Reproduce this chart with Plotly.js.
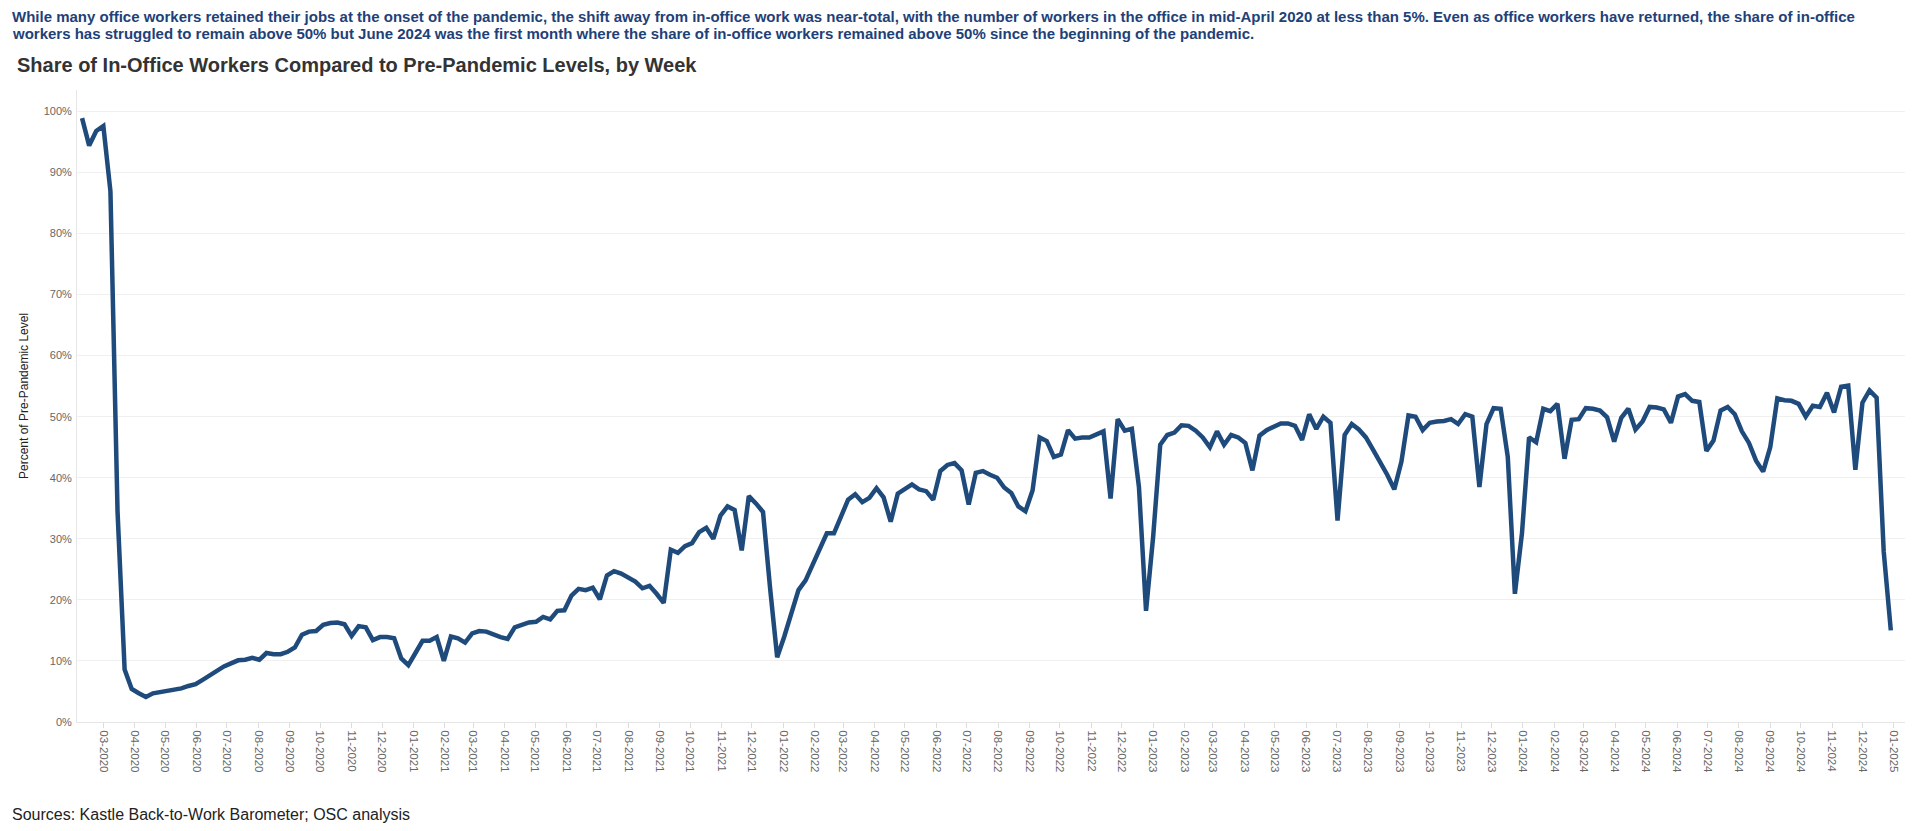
<!DOCTYPE html>
<html>
<head>
<meta charset="utf-8">
<script src="https://cdn.plot.ly/plotly-3.0.1.min.js"></script>
<style>
  html, body { margin: 0; padding: 0; background: #ffffff; }
  #chart { width: 1920px; height: 831px; }
</style>
</head>
<body>
<div id="chart"></div>
<script>
// Weekly share of in-office workers vs. pre-pandemic level (%), week starting dates
const firstWeek = '2020-02-09';

const v2020 = [98.9, 94.4, 96.8, 97.6, 86.9, 34.5, 8.6, 5.4, 4.7, 4.1, 4.7, 4.9, 5.0, 5.3, 5.5, 5.9,
  6.2, 6.9, 7.7, 8.4, 9.1, 9.6, 10.1, 10.2, 10.5, 10.2, 11.3, 11.1, 11.1, 11.5, 12.2, 14.3,
  14.8, 14.9, 15.9, 16.2, 16.3, 16.0, 14.1, 15.7, 15.5, 13.4, 13.9, 13.9, 13.7, 10.4, 9.3];
const v2021 = [11.3, 13.3, 13.3, 13.9, 10.0, 14.0, 13.7, 13.0, 14.5, 14.9, 14.8, 14.3, 13.9, 13.6,
  15.5, 15.9, 16.3, 16.4, 17.2, 16.8, 18.2, 18.3, 20.7, 21.8, 21.6, 22.0, 20.1, 24.0, 24.7, 24.3,
  23.6, 23.0, 21.9, 22.3, 21.0, 19.5, 28.2, 27.7, 28.8, 29.3, 31.1, 31.8, 30.0, 33.8, 35.3, 34.7,
  28.1, 37.0, 35.8, 34.4, 21.9, 10.6];
const v2022 = [14.0, 17.9, 21.6, 23.2, 25.7, 28.4, 30.9, 30.9, 33.7, 36.4, 37.3, 36.0, 36.7, 38.3,
  36.8, 32.8, 37.4, 38.1, 38.9, 38.1, 37.8, 36.4, 41.1, 42.1, 42.4, 41.2, 35.6, 40.8, 41.1, 40.5,
  40.0, 38.4, 37.5, 35.3, 34.5, 37.9, 46.6, 46.0, 43.4, 43.8, 47.8, 46.4, 46.6, 46.6, 47.2, 47.6,
  36.6, 49.6, 47.7, 48.0, 38.5, 18.2];
const v2023 = [30.3, 45.4, 47.0, 47.4, 48.6, 48.5, 47.7, 46.6, 45.0, 47.6, 45.4, 47.0, 46.6, 45.7,
  41.2, 46.9, 47.8, 48.3, 48.9, 48.9, 48.5, 46.2, 50.4, 48.0, 50.0, 49.0, 33.0, 47.0, 48.8, 47.9,
  46.6, 44.6, 42.6, 40.5, 38.1, 42.6, 50.2, 50.0, 47.8, 49.0, 49.2, 49.3, 49.6, 48.8, 50.4, 50.0,
  38.5, 48.8, 51.4, 51.3, 43.4, 21.0, 30.9];
const v2024 = [46.6, 45.8, 51.3, 50.9, 52.1, 43.1, 49.5, 49.6, 51.4, 51.3, 51.0, 49.9, 45.9, 49.8,
  51.3, 47.9, 49.2, 51.6, 51.5, 51.2, 49.0, 53.3, 53.7, 52.6, 52.4, 44.4, 46.1, 51.0, 51.6, 50.4,
  47.6, 45.7, 42.8, 41.0, 45.0, 53.0, 52.7, 52.6, 52.1, 50.0, 51.8, 51.6, 53.9, 50.7, 54.9, 55.1,
  41.3, 52.3, 54.3, 53.1, 27.9, 15.0];

const headerLine1 = 'While many office workers retained their jobs at the onset of the pandemic, the shift away from in-office work was near-total, with the number of workers in the office in mid-April 2020 at less than 5%. Even as office workers have returned, the share of in-office';
const headerLine2 = 'workers has struggled to remain above 50% but June 2024 was the first month where the share of in-office workers remained above 50% since the beginning of the pandemic.';
const chartTitle = 'Share of In-Office Workers Compared to Pre-Pandemic Levels, by Week';
const yTitle = 'Percent of Pre-Pandemic Level';
const sourceText = 'Sources: Kastle Back-to-Work Barometer; OSC analysis';

const values = [].concat(v2020, v2021, v2022, v2023, v2024);
const weeks = [];
{
  const d0 = new Date(firstWeek + 'T00:00:00Z');
  for (let i = 0; i < values.length; i++) {
    const d = new Date(d0.getTime() + i * 7 * 86400000);
    weeks.push(d.toISOString().slice(0, 10));
  }
}

const FONT = 'Arial, "Liberation Sans", sans-serif';

const trace = {
  type: 'scatter',
  mode: 'lines',
  x: weeks,
  y: values,
  line: { color: '#1F4A7C', width: 4.5, shape: 'linear' },
  hoverinfo: 'skip'
};

const layout = {
  width: 1920,
  height: 831,
  margin: { l: 77, r: 15, t: 90, b: 109 },
  paper_bgcolor: '#ffffff',
  plot_bgcolor: '#ffffff',
  showlegend: false,
  font: { family: FONT, color: '#666666' },
  title: {
    text: '<b>' + chartTitle + '</b>',
    font: { family: FONT, size: 20, color: '#333333' },
    xref: 'container', yref: 'container',
    x: 17 / 1920, xanchor: 'left',
    y: 1 - 65 / 831, yanchor: 'middle'
  },
  xaxis: {
    type: 'date',
    range: ['2020-02-04', '2025-01-12'],
    tick0: '2020-03-01',
    dtick: 'M1',
    tickformat: '%m-%Y',
    tickangle: 90,
    tickfont: { family: FONT, size: 11.5, color: '#666666' },
    ticks: 'outside',
    ticklen: 5,
    tickcolor: '#dddddd',
    showgrid: false,
    showline: true,
    linecolor: '#e6e6e6',
    linewidth: 1,
    zeroline: false,
    fixedrange: true
  },
  yaxis: {
    range: [0, 103.5],
    tick0: 0,
    dtick: 10,
    ticksuffix: '%',
    tickfont: { family: FONT, size: 11, color: '#666666' },
    ticks: '',
    ticklabelstandoff: 2,
    showgrid: true,
    gridcolor: '#f0f0f0',
    gridwidth: 1,
    showline: true,
    linecolor: '#e6e6e6',
    linewidth: 1,
    zeroline: false,
    fixedrange: true
  },
  annotations: [
    {
      text: '<b>' + headerLine1 + '</b>',
      xref: 'paper', yref: 'paper',
      x: 0, y: 1, xanchor: 'left', yanchor: 'middle', align: 'left',
      xshift: -67, yshift: 74,
      showarrow: false,
      font: { family: FONT, size: 15, color: '#1E4178' }
    },
    {
      text: '<b>' + headerLine2 + '</b>',
      xref: 'paper', yref: 'paper',
      x: 0, y: 1, xanchor: 'left', yanchor: 'middle', align: 'left',
      xshift: -67, yshift: 57,
      showarrow: false,
      font: { family: FONT, size: 15, color: '#1E4178' }
    },
    {
      text: yTitle,
      xref: 'paper', yref: 'paper',
      x: 0, y: 0.5, xanchor: 'center', yanchor: 'middle',
      xshift: -53, yshift: 10,
      textangle: -90,
      showarrow: false,
      font: { family: FONT, size: 12, color: '#222222' }
    },
    {
      text: sourceText,
      xref: 'paper', yref: 'paper',
      x: 0, y: 0, xanchor: 'left', yanchor: 'middle', align: 'left',
      xshift: -67, yshift: -92,
      showarrow: false,
      font: { family: FONT, size: 16, color: '#222222' }
    }
  ]
};

Plotly.newPlot('chart', [trace], layout, { displayModeBar: false, staticPlot: true, responsive: false });
</script>
</body>
</html>
